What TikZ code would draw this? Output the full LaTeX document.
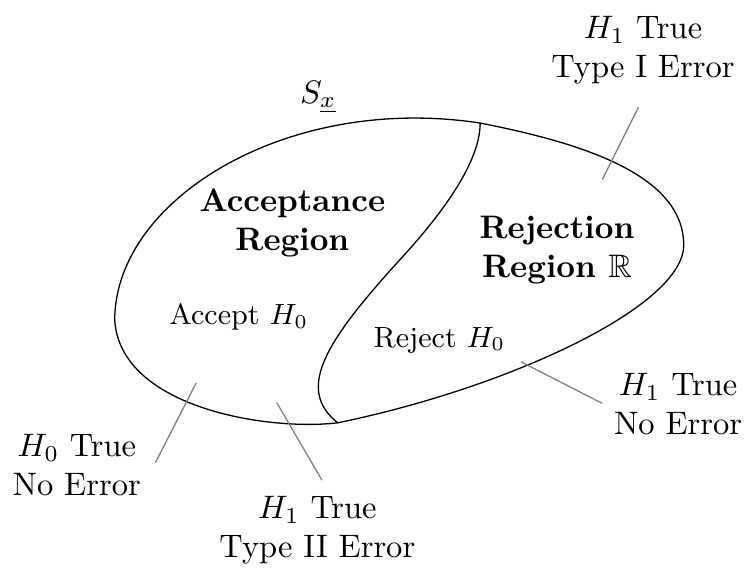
\documentclass[tikz,border=0pt]{standalone}
\usepackage{amssymb}

\begin{document}
\begin{tikzpicture}[
  region/.style={font=\bfseries, align=center},
  decision/.style={font=\small},
  outcome/.style={align=center},
  ptr/.style={draw=gray, thin}
]
\useasboundingbox (0,0) rectangle (8.15,6.31);

%% ── sample space and split ──────────────────────────────────────────────
\coordinate (dtop) at (5.19,4.98);
\coordinate (dmid) at (4.32,3.50);
\coordinate (dbot) at (3.65,1.74);
\coordinate (east) at (7.39,3.66);
\coordinate (west) at (1.24,2.85);

\draw (dtop) .. controls (6.2,4.78) and (7.39,4.45) .. (east)
             .. controls (7.39,3.0) and (5.5,2.12) .. (dbot)
             .. controls (2.9,1.65) and (1.3,1.9) .. (west)
             .. controls (1.24,4.15) and (3.1,5.3) .. cycle;

% boundary between the two regions
\draw (dtop) .. controls (5.19,4.5) and (4.66,3.87) .. (dmid)
             .. controls (3.5,2.6) and (3.2,2.1) .. (dbot);

%% ── region labels ───────────────────────────────────────────────────────
\node (sx)  at (3.44,5.26) {$S_{\underline{x}}$};
\node[region]   (acc)  at (3.16,3.90) {Acceptance\\ Region};
\node[region]   (rej)  at (6.02,3.61) {Rejection\\ Region $\mathbb{R}$};
\node[decision] (acch) at (2.58,2.88) {Accept $H_0$};
\node[decision] (rejh) at (4.75,2.63) {Reject $H_0$};

%% ── outcomes ────────────────────────────────────────────────────────────
\node[outcome] (typeI)  at (6.95,5.77) {$H_1$ True\\ Type I Error};
\node[outcome] (okrej)  at (7.33,1.94) {$H_1$ True\\ No Error};
\node[outcome] (okacc)  at (0.83,1.28) {$H_0$ True\\ No Error};
\node[outcome] (typeII) at (3.43,0.58) {$H_1$ True\\ Type II Error};

% pointer ends
\coordinate (pIa)  at (6.90,5.15);  \coordinate (pIb)  at (6.51,4.37);
\coordinate (pRa)  at (6.51,1.95);  \coordinate (pRb)  at (5.63,2.40);
\coordinate (pAa)  at (1.68,1.31);  \coordinate (pAb)  at (2.12,2.17);
\coordinate (pIIa) at (3.48,1.12);  \coordinate (pIIb) at (2.99,1.96);

\draw[ptr] (pIa)  -- (pIb);
\draw[ptr] (pRa)  -- (pRb);
\draw[ptr] (pAa)  -- (pAb);
\draw[ptr] (pIIa) -- (pIIb);

\end{tikzpicture}
\end{document}
